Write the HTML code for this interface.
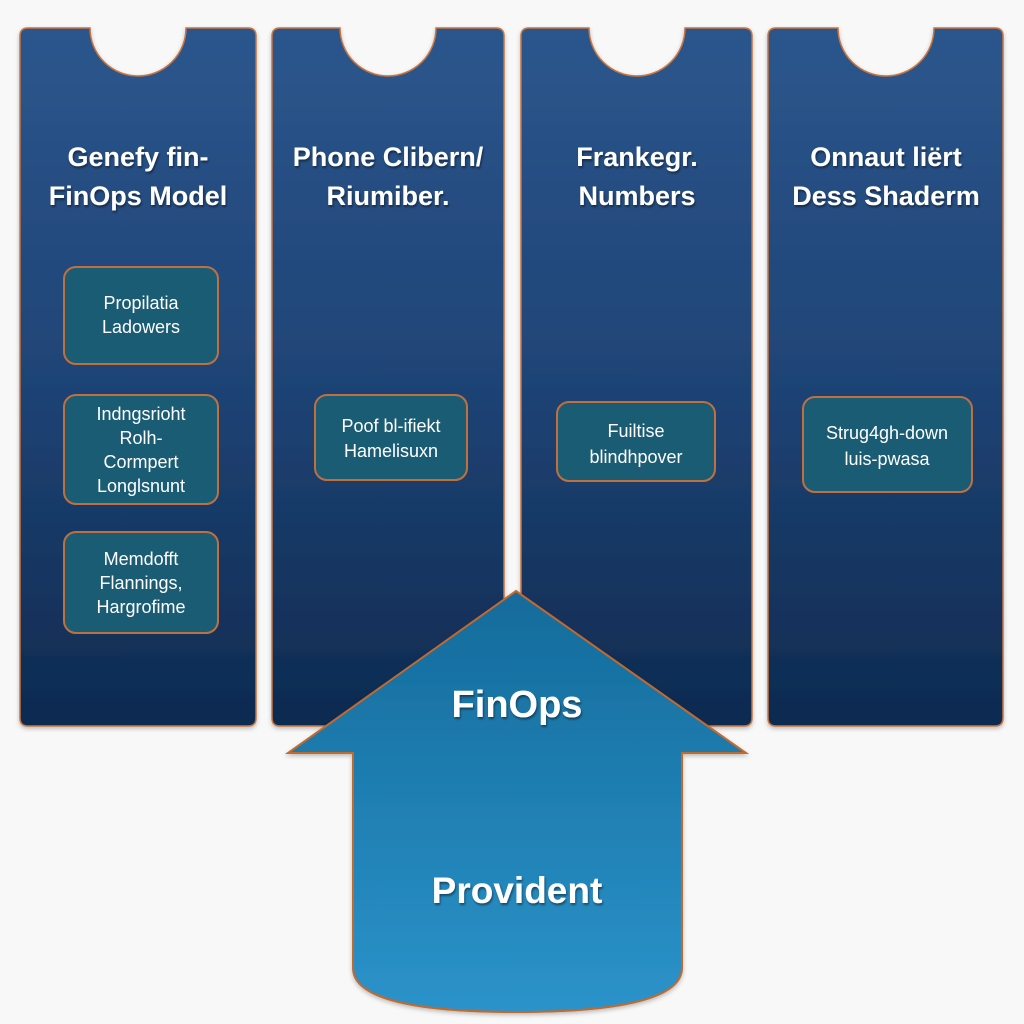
<!DOCTYPE html>
<html>
<head>
<meta charset="utf-8">
<style>
  html,body{margin:0;padding:0;background:#f8f8f8;}
  svg{display:block;}
  .t{font-family:"Liberation Sans",sans-serif;fill:#fff;text-anchor:middle;}
  .h{font-weight:bold;font-size:27px;}
  .s{font-size:18px;}
  .a{font-weight:bold;}
</style>
</head>
<body>
<svg width="1024" height="1024" viewBox="0 0 1024 1024" xmlns="http://www.w3.org/2000/svg">
  <defs>
    <linearGradient id="pg" x1="0" y1="0" x2="0" y2="1">
      <stop offset="0" stop-color="#2c568d"/>
      <stop offset="0.5" stop-color="#1f4476"/>
      <stop offset="1" stop-color="#0e2a50"/>
    </linearGradient>
    <linearGradient id="ag" x1="0" y1="0" x2="0" y2="1">
      <stop offset="0" stop-color="#146b9b"/>
      <stop offset="1" stop-color="#2b93ca"/>
    </linearGradient>
    <filter id="sh" x="-10%" y="-10%" width="120%" height="120%">
      <feDropShadow dx="0" dy="2" stdDeviation="2" flood-color="#000" flood-opacity="0.25"/>
    </filter>
    <filter id="ts" x="-10%" y="-30%" width="120%" height="160%">
      <feDropShadow dx="1" dy="2" stdDeviation="1" flood-color="#000" flood-opacity="0.45"/>
    </filter>
  </defs>

  <!-- Panels -->
  <g filter="url(#sh)" fill="url(#pg)" stroke="#c8743f" stroke-width="1.5">
    <path d="M28,28 L90,28 A48,48 0 0 0 186,28 L248,28 Q256,28 256,36 L256,718 Q256,726 248,726 L28,726 Q20,726 20,718 L20,36 Q20,28 28,28 Z"/>
    <path d="M280,28 L340,28 A48,48 0 0 0 436,28 L496,28 Q504,28 504,36 L504,718 Q504,726 496,726 L280,726 Q272,726 272,718 L272,36 Q272,28 280,28 Z"/>
    <path d="M529,28 L589,28 A48,48 0 0 0 685,28 L744,28 Q752,28 752,36 L752,718 Q752,726 744,726 L529,726 Q521,726 521,718 L521,36 Q521,28 529,28 Z"/>
    <path d="M776,28 L838,28 A48,48 0 0 0 934,28 L995,28 Q1003,28 1003,36 L1003,718 Q1003,726 995,726 L776,726 Q768,726 768,718 L768,36 Q768,28 776,28 Z"/>
  </g>

  <!-- Panel titles -->
  <g class="t h" filter="url(#ts)">
    <text x="138" y="166">Genefy fin-</text>
    <text x="138" y="205">FinOps Model</text>
    <text x="388" y="166">Phone Clibern/</text>
    <text x="388" y="205">Riumiber.</text>
    <text x="637" y="166">Frankegr.</text>
    <text x="637" y="205">Numbers</text>
    <text x="886" y="166">Onnaut liërt</text>
    <text x="886" y="205">Dess Shaderm</text>
  </g>

  <!-- Sub boxes -->
  <g fill="#1b5c75" stroke="#c0703f" stroke-width="2">
    <rect x="64" y="267" width="154" height="97" rx="12"/>
    <rect x="64" y="395" width="154" height="109" rx="12"/>
    <rect x="64" y="532" width="154" height="101" rx="12"/>
    <rect x="315" y="395" width="152" height="85" rx="12"/>
    <rect x="557" y="402" width="158" height="79" rx="12"/>
    <rect x="803" y="397" width="169" height="95" rx="12"/>
  </g>

  <g class="t s">
    <text x="141" y="309">Propilatia</text>
    <text x="141" y="333">Ladowers</text>
    <text x="141" y="420">Indngsrioht</text>
    <text x="141" y="444">Rolh-</text>
    <text x="141" y="468">Cormpert</text>
    <text x="141" y="492">Longlsnunt</text>
    <text x="141" y="565">Memdofft</text>
    <text x="141" y="589">Flannings,</text>
    <text x="141" y="613">Hargrofime</text>
    <text x="391" y="432">Poof bl-ifiekt</text>
    <text x="391" y="457">Hamelisuxn</text>
    <text x="636" y="437">Fuiltise</text>
    <text x="636" y="463">blindhpover</text>
    <text x="887" y="439">Strug4gh-down</text>
    <text x="887" y="465">luis-pwasa</text>
  </g>

  <!-- Arrow -->
  <path filter="url(#sh)" fill="url(#ag)" stroke="#c2692f" stroke-width="2" stroke-linejoin="miter"
    d="M516,591 L746,753 L682,753 L682,968 C682,1000 614,1012 517,1012 C420,1012 353,1000 353,968 L353,753 L288,753 Z"/>

  <g class="t a" filter="url(#ts)">
    <text x="517" y="717" font-size="38">FinOps</text>
    <text x="517" y="903" font-size="37">Provident</text>
  </g>
</svg>
</body>
</html>
